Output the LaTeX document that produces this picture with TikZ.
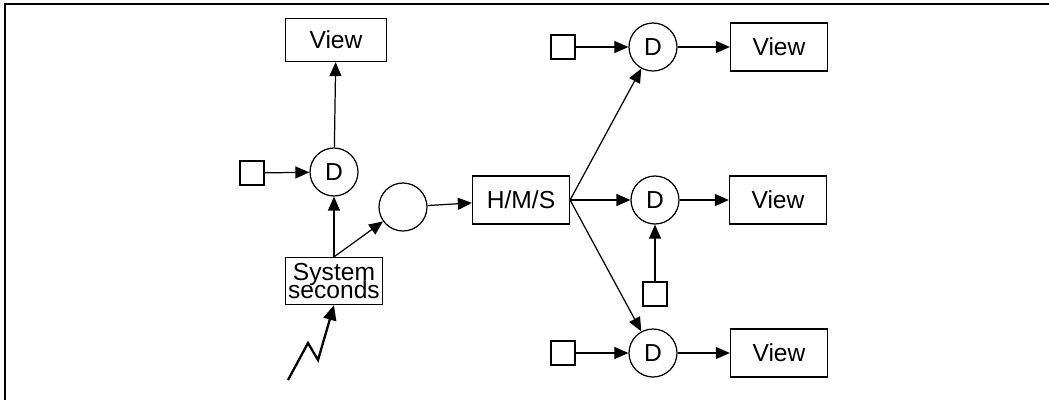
\documentclass[tikz,border=0pt]{standalone}
\usepackage{fontspec}
\setmainfont{Liberation Sans}
\usetikzlibrary{arrows.meta,calc}
\tikzset{
	blk/.style={draw,line width=0.7pt,inner sep=0pt,minimum width=1.94cm,minimum height=0.96cm},
	dnode/.style={draw,circle,line width=0.7pt,inner sep=0pt,minimum size=0.96cm},
	tick/.style={draw,line width=0.7pt,inner sep=0pt,minimum size=0.48cm},
	flow/.style={line width=0.7pt,-{Triangle[length=0.28cm,width=0.24cm]}},
}
\begin{document}
\begin{tikzpicture}[x=0.02cm,y=-0.02cm,font=\fontsize{14}{16}\selectfont]
		\useasboundingbox (0,0) rectangle (1049,400);
		\draw[line width=0.9pt] (1049,4) -- (5,4) -- (5,400);
%
		\node[blk,minimum width=2.02cm,minimum height=0.86cm] (VL) at (336,40) {View};
		\node[dnode] (DL) at (334,172) {D};
		\node[tick] (SL) at (252,173) {};
		\node[blk,minimum height=0.94cm,align=center,
			font={\fontsize{14}{9.9}\selectfont\lineskiplimit=-20pt}] (Sys) at (334,281) {System\\seconds};
		\node[dnode] (C) at (403,207) {};
		\coordinate (Z0) at (288,380);
		\coordinate (Z1) at (308,343);
		\coordinate (Z2) at (318,360);
%
		\node[blk] (HMS) at (521,200) {H/M/S};
		\node[tick] (ST) at (563,47) {};
		\node[dnode] (DT) at (653,47) {D};
		\node[blk] (VT) at (779,47) {View};
		\node[dnode] (DM) at (655,200) {D};
		\node[blk] (VM) at (778,200) {View};
		\node[tick] (SM) at (655,294) {};
		\node[tick] (SB) at (563,353) {};
		\node[dnode] (DB) at (653,353) {D};
		\node[blk] (VB) at (779,353) {View};
%
		\path[flow]
			(SL) edge (DL)
			(Sys.north) edge (DL)
			(DL) edge (VL)
			(Sys.north) edge (C)
			(C) edge (HMS)
			(HMS.east) edge (DT)
			(HMS.east) edge (DM)
			(HMS.east) edge (DB);
		\path[flow]
			(ST) edge (DT)
			(DT) edge (VT)
			(DM) edge (VM)
			(SM) edge (DM)
			(SB) edge (DB)
			(DB) edge (VB);
		\draw[line width=1.3pt,-{Triangle[length=0.3cm,width=0.26cm]}]
			(Z0) -- (Z1) -- (Z2) -- (Sys.south);
	\end{tikzpicture}
\end{document}
